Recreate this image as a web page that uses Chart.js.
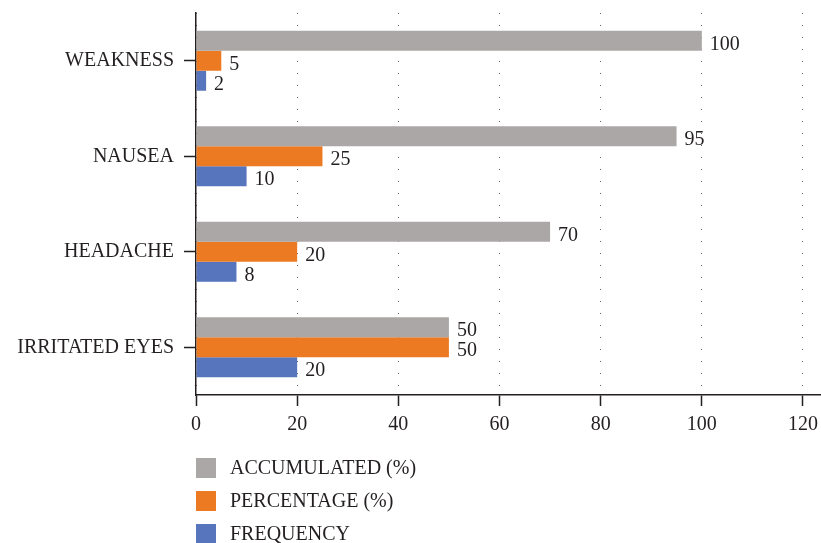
<!DOCTYPE html>
<html>
<head>
<meta charset="utf-8">
<script src="https://cdn.jsdelivr.net/npm/chart.js@4.4.0/dist/chart.umd.min.js"></script>
<style>
  body { margin: 0; background: #fff; }
</style>
</head>
<body>
<canvas id="myChart" width="821" height="543"></canvas>
<script>
var labels = ['WEAKNESS', 'NAUSEA', 'HEADACHE', 'IRRITATED EYES'];
var accumulated = [100, 95, 70, 50];
var percentage = [5, 25, 20, 50];
var frequency = [2, 10, 8, 20];
var xTicks = [0, 20, 40, 60, 80, 100, 120];

var serif = '"Liberation Serif", "Times New Roman", serif';
var textColor = '#231f20';

// numbers written just past the end of each bar
var valueLabels = {
    id: 'valueLabels',
    afterDatasetsDraw: function (chart) {
        var ctx = chart.ctx;
        ctx.save();
        ctx.font = '20px ' + serif;
        ctx.fillStyle = textColor;
        ctx.textAlign = 'left';
        ctx.textBaseline = 'alphabetic';
        chart.data.datasets.forEach(function (ds, i) {
            chart.getDatasetMeta(i).data.forEach(function (bar, j) {
                ctx.fillText(ds.data[j], bar.x + 8, bar.y + 9);
            });
        });
        ctx.restore();
    }
};

// legend stacked in a column under the x axis
var stackedLegend = {
    id: 'stackedLegend',
    afterDraw: function (chart) {
        var ctx = chart.ctx;
        var left = chart.chartArea.left;
        var top0 = chart.chartArea.bottom + 63;
        ctx.save();
        ctx.font = '20px ' + serif;
        ctx.textAlign = 'left';
        ctx.textBaseline = 'alphabetic';
        chart.data.datasets.forEach(function (ds, i) {
            var top = top0 + i * 33;
            ctx.fillStyle = ds.backgroundColor;
            ctx.fillRect(left, top, 20, 20);
            ctx.fillStyle = textColor;
            ctx.fillText(ds.label, left + 34, top + 15.5);
        });
        ctx.restore();
    }
};

var config = {
    type: 'bar',
    data: {
        labels: labels,
        datasets: [
            { label: 'ACCUMULATED (%)', data: accumulated, backgroundColor: '#aba7a6' },
            { label: 'PERCENTAGE (%)', data: percentage, backgroundColor: '#ec7a22' },
            { label: 'FREQUENCY', data: frequency, backgroundColor: '#5675bd' }
        ]
    },
    options: {
        indexAxis: 'y',
        responsive: false,
        animation: false,
        datasets: {
            bar: { barPercentage: 1, categoryPercentage: 0.628 }
        },
        layout: { padding: { top: 13, right: 0, bottom: 108, left: 0 } },
        plugins: {
            legend: { display: false },
            tooltip: { enabled: false }
        },
        scales: {
            x: {
                min: 0,
                max: 123.56,
                afterBuildTicks: function (scale) {
                    scale.ticks = xTicks.map(function (v) { return { value: v }; });
                },
                afterFit: function (scale) {
                    scale.height = 40;
                    scale.paddingLeft = 0;
                    scale.paddingRight = 0;
                },
                ticks: { font: { family: serif, size: 20 }, color: textColor, padding: 7 },
                grid: { color: '#666', lineWidth: 1, tickColor: textColor, tickWidth: 1.5, tickLength: 11 },
                border: { display: true, color: textColor, width: 1.5, dash: [1, 11] }
            },
            y: {
                afterFit: function (scale) {
                    scale.width = 196;
                    scale.paddingTop = 0;
                    scale.paddingBottom = 0;
                },
                ticks: { font: { family: serif, size: 20 }, color: textColor, padding: 10 },
                grid: { offset: false, drawOnChartArea: false, tickColor: textColor, tickWidth: 1.5, tickLength: 12 },
                border: { display: true, color: textColor, width: 1.5 }
            }
        }
    },
    plugins: [valueLabels, stackedLegend]
};

var ctx = document.getElementById('myChart').getContext('2d');
var myChart = new Chart(ctx, config);
</script>
</body>
</html>
